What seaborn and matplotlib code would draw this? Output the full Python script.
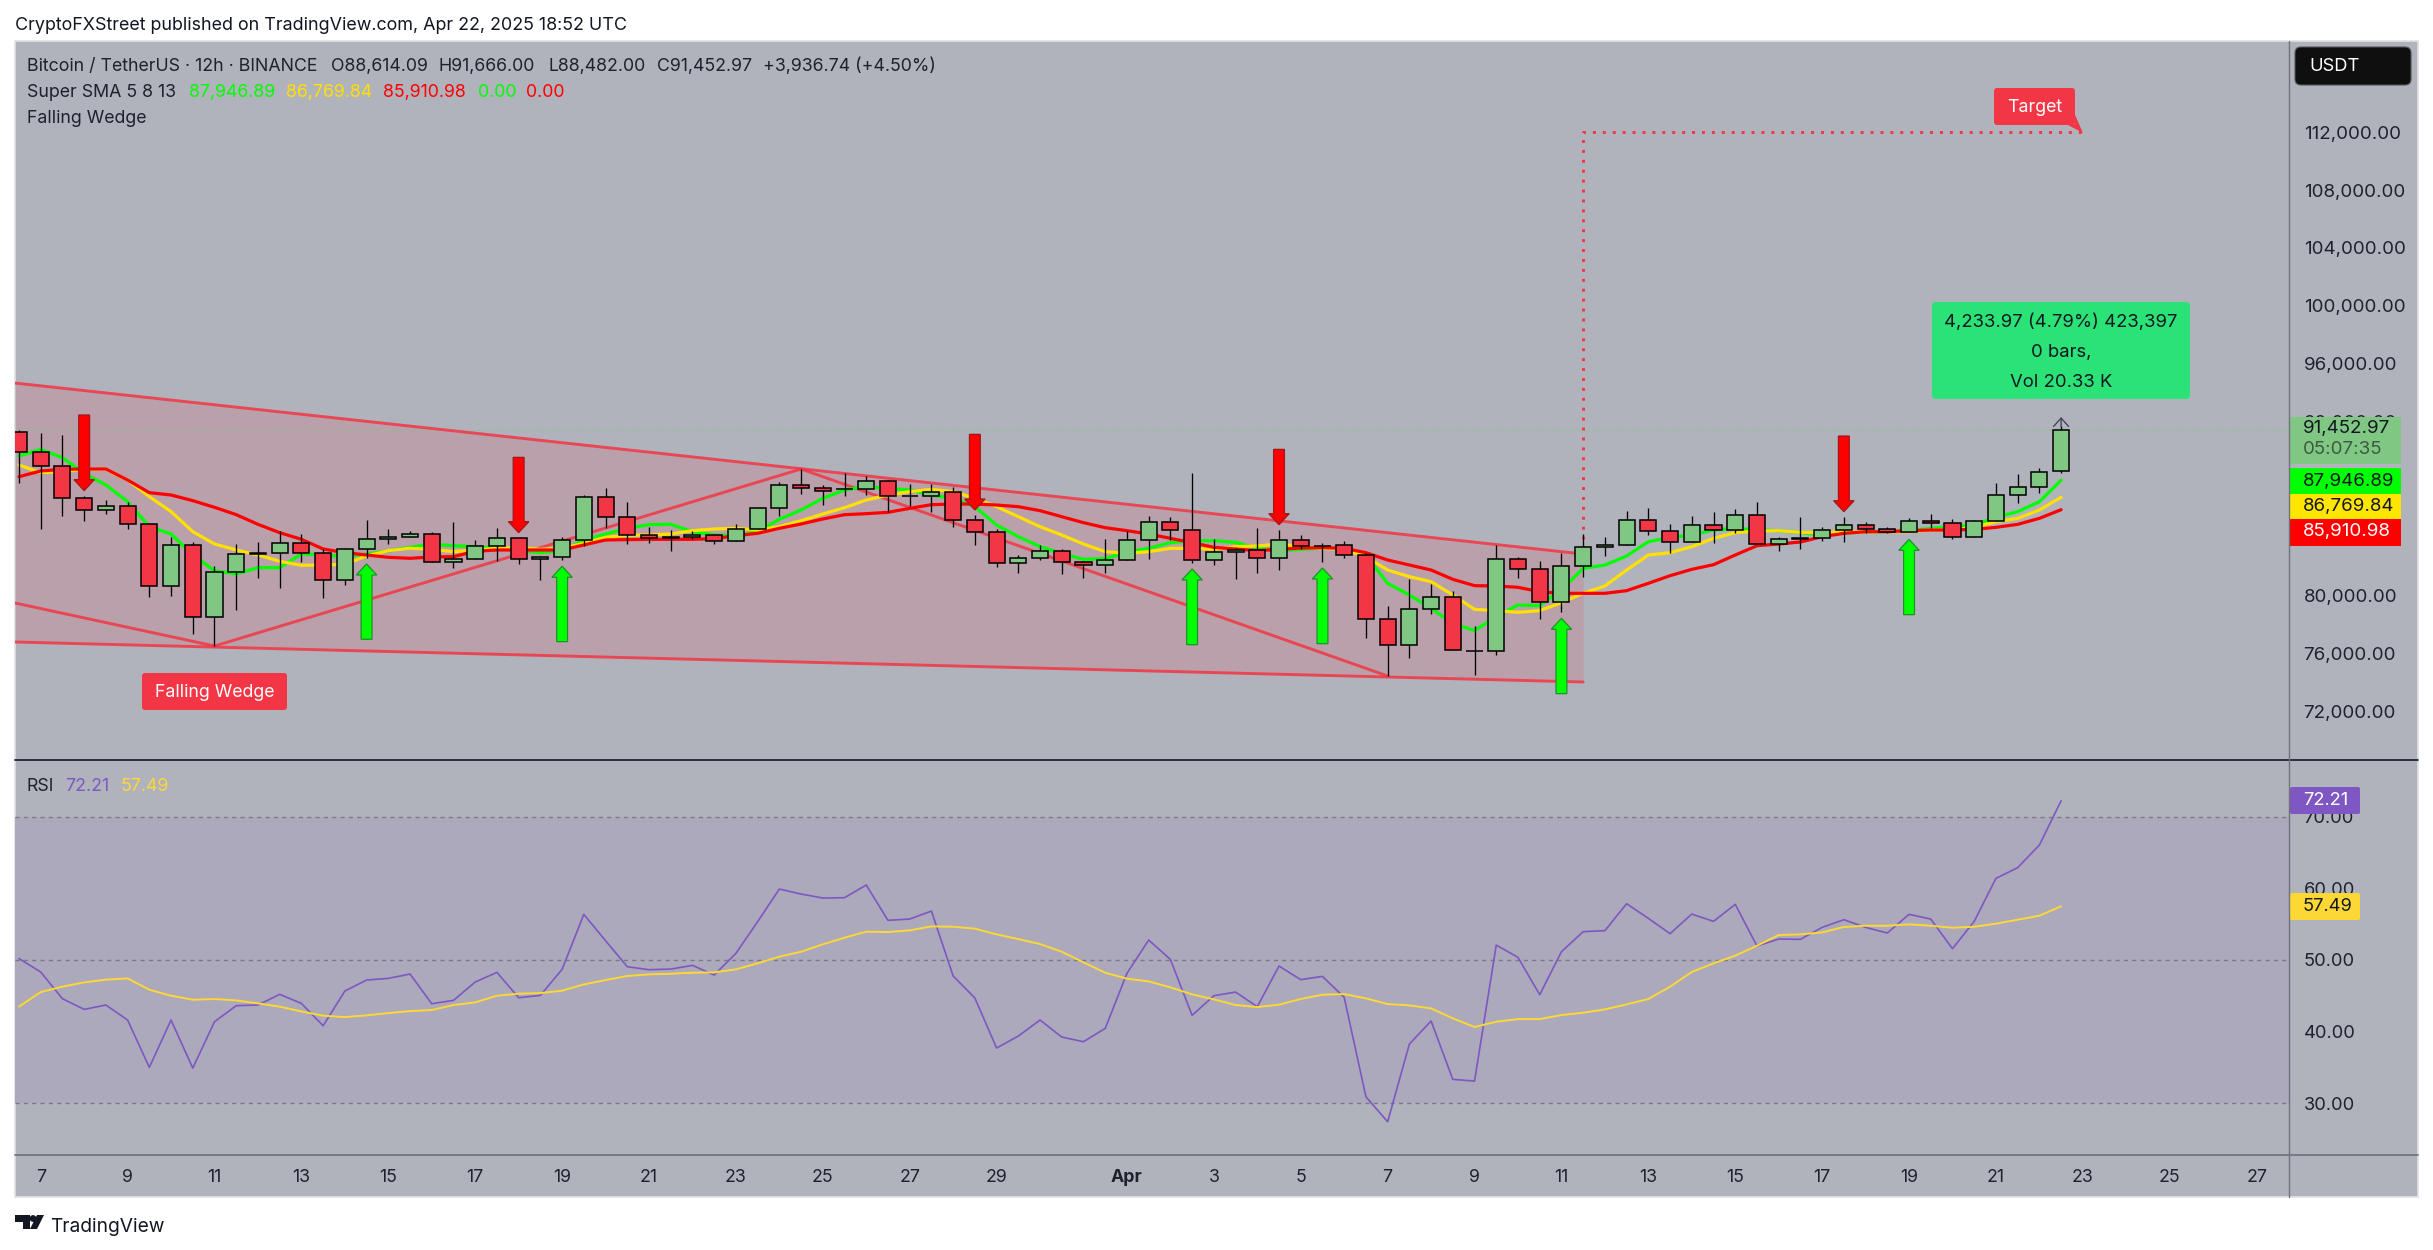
import numpy as np
import matplotlib
matplotlib.use("Agg")
import matplotlib.pyplot as plt
import seaborn as sns
from matplotlib.patches import FancyBboxPatch, Polygon, Rectangle, Circle

# candles, 12h bars
opens = [91257, 89875, 88908, 86697, 85868, 86145, 84901, 80617, 83450, 78476,
         81585, 82897, 82897, 83588, 82897, 81032, 83174, 83865, 84003, 84210,
         82276, 82483, 83381, 83934, 82483, 82621, 83796, 86766, 85385, 84141,
         84003, 84003, 84141, 83726, 84556, 86006, 87594, 87387, 87330, 87318,
         87870, 86840, 86834, 87110, 85176, 84347, 82205, 82551, 83034, 82274,
         82067, 82412, 83794, 85038, 84485, 82412, 82965, 83103, 82551, 83794,
         83410, 83449, 82758, 78336, 76540, 79027, 79856, 76180, 76150, 82481,
         81791, 79511, 81998, 83310, 83448, 85175, 84415, 83655, 84830, 84484,
         85521, 83517, 83900, 83932, 84484, 84830, 84554, 84346, 85106, 84968,
         84001, 85106, 86905, 87457, 88614.09]
closes = [89875, 88908, 86697, 85868, 86145, 84901, 80617, 83450, 78476, 81585,
          82828, 82828, 83588, 82897, 81032, 83174, 83865, 84003, 84210, 82276,
          82483, 83381, 83934, 82483, 82621, 83796, 86766, 85385, 84141, 83934,
          83990, 84141, 83726, 84556, 86006, 87596, 87387, 87226, 87318, 87870,
          86834, 86830, 87110, 85176, 84347, 82205, 82551, 83034, 82274, 82067,
          82412, 83794, 85038, 84485, 82412, 82965, 83103, 82551, 83794, 83380,
          83395, 82758, 78336, 76540, 79027, 79856, 76194, 76150, 82481, 81791,
          79511, 81998, 83311, 83448, 85175, 84415, 83655, 84830, 84484, 85521,
          83517, 83909, 83932, 84484, 84830, 84554, 84346, 85106, 84968, 84001,
          85106, 86903, 87457, 88494, 91452.97]
highs = [91418, 91188, 91073, 86859, 86582, 86444, 84970, 84049, 83657, 81999,
         83542, 83680, 84440, 84233, 83174, 83243, 85200, 84579, 84440, 84348,
         85062, 83819, 84648, 83934, 82690, 84003, 86905, 87411, 86444, 84740,
         84509, 84440, 84233, 84901, 86006, 87803, 88700, 87594, 88469, 88239,
         87940, 87686, 87663, 87456, 85521, 84554, 82781, 83472, 83172, 82343,
         83863, 84416, 85475, 85383, 88446, 83886, 83241, 84646, 84485, 84163,
         83610, 83748, 82896, 79257, 81123, 80800, 80271, 77875, 83472, 82643,
         82366, 82896, 84209, 84001, 85820, 86027, 84922, 85475, 85751, 85958,
         86442, 84047, 85406, 84738, 85406, 85060, 84715, 85337, 85613, 85267,
         85175, 87755, 88356, 88770, 91666]
lows = [87780, 84602, 85500, 85154, 85638, 84602, 79903, 79973, 77347, 76518,
        79005, 81216, 80525, 82322, 79834, 80733, 82598, 83565, 84003, 82276,
        81907, 82483, 82391, 82183, 81078, 82460, 83427, 84671, 83565, 83634,
        83082, 83888, 83565, 83726, 84556, 85500, 86995, 86258, 86857, 86903,
        85775, 86143, 85752, 84738, 83472, 81975, 81560, 82458, 81491, 81215,
        81560, 82412, 82481, 83817, 82251, 82113, 81146, 81560, 81768, 83172,
        82320, 82597, 77069, 74444, 75688, 78728, 76194, 74490, 75872, 81215,
        78382, 78866, 81284, 82734, 83448, 84185, 82941, 83655, 83632, 84323,
        83517, 83080, 83218, 83771, 83701, 84277, 84277, 84346, 84669, 83909,
        84001, 85106, 86352, 87043, 88482]

# Super SMA 5 8 13
sma5 = [89622, 90083, 89507, 88425, 87619, 86467, 84740, 84233, 82782, 81700,
        81470, 81907, 81907, 82851, 82782, 82667, 82851, 83059, 83312, 83519,
        83427, 83358, 83243, 83082, 82943, 83082, 83819, 84233, 84625, 84878,
        84901, 84394, 84164, 84118, 84394, 85246,
        85890, 86696, 87272, 87502, 87387, 87272, 86926, 86696, 86120, 84854,
        84048, 83357, 82896, 82481, 82528, 82988, 83241, 83633, 83771, 83771,
        83656, 83241, 83080, 83172, 83264, 83241, 82781, 80823, 80017, 79096,
        78060, 77553, 78520, 79326, 79280, 80363,
        81859, 82089, 82711, 83701, 84001, 84162, 84507, 84623, 84507, 84461,
        84323, 84162, 84277, 84392, 84392, 84461, 84623, 84738, 84853, 85383,
        85774, 86465, 87946.89]
sma8 = [89000, 88471, 88540, 88701, 88701, 87964, 86813, 85776, 84394, 83542,
        83128, 82782, 82345, 82068, 82091, 82137, 82713, 83082, 83243, 83174,
        83013, 83128, 83243, 83289, 83174, 83243, 83588, 84003, 84141, 84164,
        84233, 84463, 84579, 84625, 84509, 84740,
        85153, 85614, 86051, 86581, 86926, 87157, 87318, 87157, 86696, 86120,
        85429, 84738, 84163, 83541, 83011, 82896, 83011, 83241, 83241, 83172,
        83357, 83403, 83541, 83357, 83241, 83172, 82666, 81744, 81284, 80938,
        80017, 79027, 78935, 78820, 78935, 79488,
        80132, 80638, 81744, 82780, 82941, 83356, 83932, 84323, 84438, 84461,
        84346, 84323, 84392, 84392, 84392, 84392, 84507, 84507, 84692, 85083,
        85314, 85889, 86769.84]
sma13 = [88194, 88586, 88701, 88724, 88724, 87964, 87089, 86928, 86536, 86076,
         85569, 84901, 84325, 83865, 83197, 82943, 82782, 82621, 82552, 82644,
         82667, 83036, 83128, 83128, 83128, 83128, 83473, 83819, 83842, 83865,
         83865, 83865, 83911, 84118, 84279, 84625,
         84923, 85268, 85567, 85637, 85729, 86005, 86258, 86304, 86304, 86235,
         86120, 85844, 85429, 85015, 84669, 84462, 84232, 83932, 83633, 83311,
         83195, 83080, 83172, 83264, 83288, 83241, 82942, 82435, 82090, 81744,
         81100, 80662, 80639, 80547, 80248, 80132,
         80132, 80132, 80316, 80823, 81352, 81790, 82112, 82780, 83425, 83540,
         83678, 84047, 84277, 84392, 84392, 84461, 84507, 84507, 84554, 84692,
         84899, 85314, 85910.98]

rsi = [50.2, 48.32, 44.59, 43.1, 43.71, 41.62, 35.01, 41.62, 34.91, 41.38,
       43.62, 43.71, 45.2, 43.94, 40.82, 45.66, 47.2, 47.43, 48.04, 43.9,
       44.36, 46.92, 48.27, 44.73, 45.06, 48.69, 56.37, 52.69, 49.06, 48.64,
       48.73, 49.25, 47.9, 50.92, 55.34, 59.9, 59.2, 58.65, 58.69, 60.46,
       55.53, 55.71, 56.83, 47.76, 44.69, 37.71, 39.38, 41.62, 39.24, 38.59,
       40.45, 48.13, 52.78, 50.08, 42.27, 45.01, 45.52, 43.48, 49.15, 47.25,
       47.71, 44.78, 30.91, 27.42, 38.26, 41.48, 33.33, 33.1, 52.08, 50.36,
       45.15, 51.15, 53.95, 54.09, 57.85, 55.81, 53.67, 56.41, 55.39, 57.76,
       51.95, 52.92, 52.88, 54.55, 55.62, 54.55, 53.76, 56.37, 55.71, 51.57,
       55.39, 61.39, 62.88, 66.04, 72.21]
rsi_ma = [43.48, 45.52, 46.27, 46.87, 47.25, 47.43, 45.85, 45.01, 44.45, 44.55,
          44.36, 43.94, 43.48, 42.82, 42.22, 42.03, 42.27, 42.59, 42.87, 43.01,
          43.71, 44.08, 45.01, 45.29, 45.38, 45.71, 46.59, 47.2, 47.76, 47.99,
          48.08, 48.22, 48.27, 48.69, 49.53, 50.46, 51.15, 52.18, 53.11, 53.95,
          53.9, 54.13, 54.69, 54.64, 54.37, 53.57, 52.92, 52.22, 51.15, 49.67,
          48.22, 47.39, 47.01, 46.18, 45.2, 44.5, 43.71, 43.43, 43.76, 44.55,
          45.15, 45.24, 44.64, 43.85, 43.66, 43.24, 41.85, 40.64, 41.38, 41.75,
          41.75, 42.31, 42.64, 43.1, 43.8, 44.55, 46.27, 48.32, 49.53, 50.6,
          51.99, 53.48, 53.57, 53.85, 54.6, 54.78, 54.78, 54.97, 54.78, 54.5,
          54.64, 55.06, 55.62, 56.18, 57.49]

# falling wedge drawing
wedge_days = [-0.59, 35.5]
wedge_top = [94665, 82849]
wedge_bottom = [76768, 74004]
zigzag_days = [-0.59, 4, 17.5, 31]
zigzag_prices = [79463, 76492, 88722, 74418]
target_days = [35.5, 35.5, 47.0]
target_prices = [83190, 112000, 112000]

# (day, tail, tip)
down_arrows = [(1, 92455, 87227), (11, 89530, 84325), (21.5, 91118, 85890),
               (28.5, 90081, 84877), (41.5, 91002, 85774)]
up_arrows = [(7.5, 76956, 82160), (12, 76795, 82000), (26.5, 76586, 81814),
             (29.5, 76655, 81883), (35, 73201, 78405), (43, 78658, 83863)]

# 84k and 88k sit behind the price tags on the original
price_ticks = [72000, 76000, 80000, 92000, 96000, 100000, 104000, 108000, 112000]
rsi_ticks = [30, 40, 50, 60, 70]
date_days = [0, 2, 4, 6, 8, 10, 12, 14, 16, 18, 20, 22, 25, 27, 29, 31, 33, 35, 37,
             39, 41, 43, 45, 47, 49, 51]
date_labels = ["7", "9", "11", "13", "15", "17", "19", "21", "23", "25", "27", "29", "Apr",
               "3", "5", "7", "9", "11", "13", "15", "17", "19", "21", "23", "25", "27"]

W, H = 2433, 1250
BG = "#b0b3bc"
RED = "#f23645"
GREEN = "#81c784"
INK = "#1e222d"
FONT = "Inter"
AXIS_SIZE = 13.5


def px_rect(left, top, right, bottom):
    return [left / W, 1 - bottom / H, (right - left) / W, (bottom - top) / H]


sns.set_theme(style="white", rc={"font.family": FONT, "axes.linewidth": 0})

fig = plt.figure(figsize=(W / 100, H / 100), dpi=100, facecolor="white")

back = fig.add_axes([0, 0, 1, 1], zorder=0)
back.set_xlim(0, W)
back.set_ylim(H, 0)
back.axis("off")
back.add_patch(Rectangle((15, 41), 2403, 1156, facecolor=BG, edgecolor="#dfe1e6", lw=1.2))

ax = fig.add_axes(px_rect(15, 41, 2289, 760), zorder=1, facecolor="none")
ax_rsi = fig.add_axes(px_rect(15, 761, 2289, 1155), zorder=1, facecolor="none")

bar_days = np.arange(len(closes)) * 0.5 - 0.5
o, c = np.array(opens), np.array(closes)

# wedge
ax.fill_between(wedge_days, wedge_top, wedge_bottom, color="#b9a0aa", lw=0, zorder=1)
for ys in (wedge_top, wedge_bottom):
    ax.plot(wedge_days, ys, color=RED, lw=2.1, alpha=0.85, zorder=1.5)
ax.plot(zigzag_days, zigzag_prices, color=RED, lw=2.1, alpha=0.85, zorder=1.5)
ax.plot(target_days, target_prices, color=RED, lw=2.1, ls=(0, (1, 2.4)), zorder=1.6)
ax.axhline(closes[-1], color=GREEN, lw=0.8, ls=(0, (1, 2)), zorder=1.2)

# moving averages, red ends up on top
for vals, col in ((sma5, "#00ff00"), (sma8, "#ffe000"), (sma13, "#ff0000")):
    sns.lineplot(x=bar_days, y=vals, ax=ax, color=col, linewidth=2.3, zorder=2,
                 estimator=None, sort=False)

# candles
ax.vlines(bar_days, lows, highs, color="black", lw=0.95, zorder=3)
colors = [GREEN if b >= a else RED for a, b in zip(opens, closes)]
ax.bar(bar_days, np.abs(c - o), bottom=np.minimum(o, c), width=0.37, color=colors,
       edgecolor="black", linewidth=1.1, zorder=3.1)

# signal arrows
for arrows, col, edge in ((down_arrows, "#ff0000", "#a01818"), (up_arrows, "#00ff00", "#1f8f2a")):
    for day, tail, tip in arrows:
        ax.arrow(day, tail, 0, tip - tail, width=0.25, head_width=0.47, head_length=760,
                 length_includes_head=True, facecolor=col, edgecolor=edge, lw=0.9, zorder=4)

ax.annotate("", xy=(46.5, 92500), xytext=(46.5, closes[-1]),
            arrowprops=dict(arrowstyle="->,head_length=0.5,head_width=0.45", color="#3a3d47", lw=0.9),
            zorder=4)

ax.set_xlim(-0.5915, 51.745)
ax.set_ylim(68614, 118302)
ax.set_xticks([])
ax.set_yticks(price_ticks)
ax.set_yticklabels([f"{t:,.2f}" for t in price_ticks])
ax.yaxis.tick_right()
ax.tick_params(axis="y", length=0, pad=10.5, labelsize=AXIS_SIZE, labelcolor=INK)
ax.set(xlabel="", ylabel="")

# rsi pane
ax_rsi.axhspan(30, 70, color="#aba9bb", lw=0, zorder=0.5)
for lvl in (30, 50, 70):
    ax_rsi.axhline(lvl, color="#787b86", lw=1.0, ls=(0, (3, 3)), zorder=1)
sns.lineplot(x=bar_days, y=rsi, ax=ax_rsi, color="#7e57c2", linewidth=1.2, zorder=2,
             estimator=None, sort=False)
sns.lineplot(x=bar_days, y=rsi_ma, ax=ax_rsi, color="#fdd835", linewidth=1.4, zorder=2.1,
             estimator=None, sort=False)
ax_rsi.set_xlim(-0.5915, 51.745)
ax_rsi.set_ylim(22.78, 77.77)
ax_rsi.set_yticks(rsi_ticks)
ax_rsi.set_yticklabels([f"{t:.2f}" for t in rsi_ticks])
ax_rsi.yaxis.tick_right()
ax_rsi.tick_params(axis="y", length=0, pad=10.5, labelsize=13.2, labelcolor=INK)
ax_rsi.set_xticks(date_days)
ax_rsi.set_xticklabels(date_labels)
ax_rsi.tick_params(axis="x", length=0, pad=10, labelsize=12.8, labelcolor=INK)
for lab in ax_rsi.get_xticklabels():
    if lab.get_text() == "Apr":
        lab.set_fontweight("bold")
ax_rsi.set(xlabel="", ylabel="")

# everything around the chart in pixel positions
ui = fig.add_axes([0, 0, 1, 1], zorder=5, facecolor="none")
ui.set_xlim(0, W)
ui.set_ylim(H, 0)
ui.axis("off")


def label(x, y, s, color=INK, size=12.8, ha="left", weight="normal"):
    ui.text(x, y + 1.5, s, color=color, fontsize=size, ha=ha, va="center", fontweight=weight)


def box(x0, y0, x1, y1, color, radius=3, edge="none"):
    ui.add_patch(FancyBboxPatch((x0 + radius, y0 + radius), x1 - x0 - 2 * radius, y1 - y0 - 2 * radius,
                                boxstyle=f"round,pad={radius},rounding_size={radius}",
                                facecolor=color, edgecolor=edge, lw=0.8))


def flat(x, y, w, h, color):
    ui.add_patch(Rectangle((x, y), w, h, facecolor=color, edgecolor="none", lw=0))


ui.plot([15, 2418], [760, 760], color="#131722", lw=1.2)
ui.plot([15, 2418], [1155, 1155], color="#6f727c", lw=1.2)
ui.plot([2289, 2289], [41, 1197], color="#6f727c", lw=1.0)

label(15, 24, "CryptoFXStreet published on TradingView.com, Apr 22, 2025 18:52 UTC", color="#131722", size=12.9)
label(27, 65, "Bitcoin / TetherUS · 12h · BINANCE")
for x, s in ((331, "O88,614.09"), (439, "H91,666.00"), (548, "L88,482.00"), (657, "C91,452.97"),
             (763, "+3,936.74 (+4.50%)")):
    label(x, 65, s)
label(27, 91, "Super SMA 5 8 13")
for x, s, col in ((189, "87,946.89", "#00ff00"), (286, "86,769.84", "#ffe000"), (383, "85,910.98", "#ff0000"),
                  (478, "0.00", "#00ff00"), (526, "0.00", "#ff0000")):
    label(x, 91, s, color=col)
label(27, 117, "Falling Wedge")
label(27, 785, "RSI")
label(65, 785, "72.21", color="#7e57c2")
label(121, 785, "57.49", color="#fdd835")

# usdt button
box(2295, 47, 2411, 85, "#0f0f0f", radius=6, edge="#555555")
label(2309, 65, "USDT", color="white", size=13.2)

# price tags
box(2290, 417, 2401, 464, GREEN, radius=2)
label(2303, 427, "91,452.97", color="#131722", size=AXIS_SIZE)
label(2303, 448, "05:07:35", color="#3c5a42", size=AXIS_SIZE)
flat(2290, 468, 111, 26, "#00ff00")
label(2303, 480, "87,946.89", color="#131722", size=AXIS_SIZE)
flat(2290, 494, 111, 25, "#ffe600")
label(2303, 505, "86,769.84", color="#131722", size=AXIS_SIZE)
flat(2290, 519, 111, 27, "#ff0000")
label(2303, 530, "85,910.98", color="white", size=AXIS_SIZE)
box(2290, 787, 2360, 814, "#7e57c2", radius=2)
label(2303, 799, "72.21", color="white", size=13.2)
box(2290, 893, 2360, 920, "#fdd835", radius=2)
label(2303, 905, "57.49", color="#131722", size=13.2)

# drawing labels
box(142, 673, 287, 710, RED, radius=3)
label(214.5, 691, "Falling Wedge", color="white", ha="center")
box(1994, 88, 2075, 125, RED, radius=3)
ui.add_patch(Polygon([(2075, 115), (2075, 124), (2068, 125), (2083, 133)], closed=True, facecolor=RED,
                     edgecolor="none", lw=0))
label(2034.5, 106, "Target", color="white", ha="center")

box(1932, 302, 2190, 399, "#2be277", radius=4)
label(2061, 321, "4,233.97 (4.79%) 423,397", ha="center", color="#131722", size=13.3)
label(2061, 351, "0 bars,", ha="center", color="#131722", size=13.3)
label(2061, 381, "Vol 20.33 K", ha="center", color="#131722", size=13.3)

# logo
ui.add_patch(Polygon([(15, 1215), (30, 1215), (30, 1229), (23, 1229), (23, 1222), (15, 1222)], closed=True,
                     facecolor="#131722", edgecolor="none", lw=0))
ui.add_patch(Circle((33, 1218.5), 3.4, facecolor="#131722", edgecolor="none", lw=0))
ui.add_patch(Polygon([(37, 1215), (44, 1215), (37, 1229), (30, 1229)], closed=True,
                     facecolor="#131722", edgecolor="none", lw=0))
label(50, 1225, "TradingView", color="#131722", size=13.8)

fig.savefig("out.png", dpi=100, facecolor="white")
